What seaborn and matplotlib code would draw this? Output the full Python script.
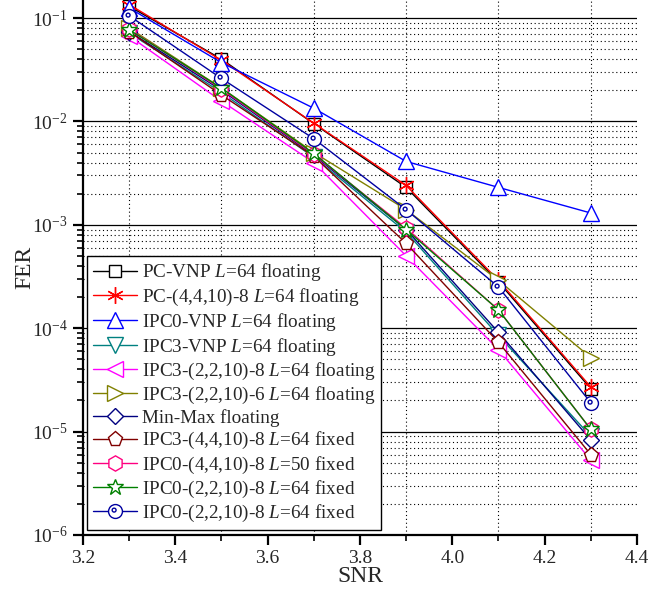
import numpy as np
import pandas as pd
import seaborn as sns
import matplotlib
matplotlib.use("Agg")
import matplotlib.pyplot as plt
from matplotlib.path import Path
from matplotlib.ticker import LogLocator, MultipleLocator, NullFormatter

snr = [3.3, 3.5, 3.7, 3.9, 4.1, 4.3]

labels = [
    "PC-VNP $L$=64 floating",
    "PC-(4,4,10)-8 $L$=64 floating",
    "IPC0-VNP $L$=64 floating",
    "IPC3-VNP $L$=64 floating",
    "IPC3-(2,2,10)-8 $L$=64 floating",
    "IPC3-(2,2,10)-6 $L$=64 floating",
    "Min-Max floating",
    "IPC3-(4,4,10)-8 $L$=64 fixed",
    "IPC0-(4,4,10)-8 $L$=50 fixed",
    "IPC0-(2,2,10)-8 $L$=64 fixed",
    "IPC0-(2,2,10)-8 $L$=64 fixed ",
]

fer_pc_vnp      = [0.130, 0.040, 0.0095, 0.0023, 2.8e-4, 2.6e-5]
fer_pc_4410     = [0.135, 0.039, 0.0096, 0.0024, 2.9e-4, 2.7e-5]
fer_ipc0_vnp    = [0.125, 0.037, 0.0134, 0.0041, 2.3e-3, 1.3e-3]
fer_ipc3_vnp    = [0.072, 0.019, 0.0045, 0.00085, 8.5e-5, 9.0e-6]
fer_ipc3_2210_8 = [0.067, 0.0157, 0.0040, 0.00050, 6.2e-5, 5.3e-6]
fer_ipc3_2210_6 = [0.080, 0.021, 0.0050, 0.00140, 2.9e-4, 5.2e-5]
fer_minmax      = [0.074, 0.020, 0.0047, 0.00090, 9.1e-5, 8.3e-6]
fer_ipc3_4410   = [0.074, 0.018, 0.0046, 0.00066, 7.3e-5, 6.0e-6]
fer_ipc0_4410   = [0.078, 0.0205, 0.0048, 0.00093, 1.5e-4, 1.05e-5]
fer_ipc0_2210   = [0.077, 0.021, 0.0049, 0.00090, 1.5e-4, 1.05e-5]
fer_ipc0_2210b  = [0.105, 0.026, 0.0068, 0.00140, 2.5e-4, 1.9e-5]

series = [fer_pc_vnp, fer_pc_4410, fer_ipc0_vnp, fer_ipc3_vnp, fer_ipc3_2210_8,
          fer_ipc3_2210_6, fer_minmax, fer_ipc3_4410, fer_ipc0_4410,
          fer_ipc0_2210, fer_ipc0_2210b]

# circle with a small dot marker
circ = Path.circle((0, 0), 1.0)
dot = Path.circle((-0.2, 0.2), 0.28)
circ_dot = Path.make_compound_path(circ, dot)

colors = ["#000000", "#ff0000", "#0000ff", "#008080", "#ff00ff", "#808000",
          "#000080", "#800000", "#ff0080", "#008000", "#0000a0"]
markers = ["s", (6, 2, 0), "^", "v", "<", ">", "D", "p", "h", "*", circ_dot]
msizes = [9, 12, 11, 11, 11, 11, 8, 11, 11, 12, 10]

sns.set_theme(style="white")
plt.rcParams["font.family"] = ["Liberation Serif", "DejaVu Serif"]
plt.rcParams["mathtext.fontset"] = "custom"
plt.rcParams["mathtext.rm"] = "Liberation Serif"
plt.rcParams["mathtext.it"] = "Liberation Serif:italic"

fig = plt.figure(figsize=(6.54, 5.99), dpi=100)
ax = fig.add_axes([83 / 654, 1 - 535 / 599, (637 - 83) / 654, 535 / 599 - 0.0])

for vals, lab, c, m, ms in zip(series, labels, colors, markers, msizes):
    df = pd.DataFrame({"SNR": snr, "FER": vals})
    sns.lineplot(data=df, x="SNR", y="FER", ax=ax, color=c, marker=m,
                 markersize=ms, markerfacecolor="white", markeredgecolor=c,
                 markeredgewidth=1.0, linewidth=1.0, label=lab,
                 estimator=None, sort=False)

ax.set_yscale("log")
ax.set_xlim(3.2, 4.4)
ax.set_ylim(1e-6, 10 ** (-1 + 18 / 103.4))

ax.xaxis.set_major_locator(MultipleLocator(0.2))
ax.xaxis.set_minor_locator(MultipleLocator(0.1))
ax.yaxis.set_major_locator(LogLocator(base=10, numticks=20))
ax.yaxis.set_minor_locator(LogLocator(base=10, subs=np.arange(2, 10), numticks=20))
ax.yaxis.set_minor_formatter(NullFormatter())
ax.set_xticks([3.2, 3.4, 3.6, 3.8, 4.0, 4.2, 4.4])
ax.set_xticklabels(["3.2", "3.4", "3.6", "3.8", "4.0", "4.2", "4.4"])

ax.grid(False)
ax.grid(True, which="major", axis="y", color="black", linestyle="-", linewidth=0.9)
ax.grid(True, which="minor", axis="y", color="black", linestyle=(0, (1, 2.5)), linewidth=0.8)
ax.grid(True, which="minor", axis="x", color="black", linestyle=(0, (1, 2.5)), linewidth=0.8)
ax.set_axisbelow(True)

for s in ["top", "right"]:
    ax.spines[s].set_visible(False)
for s in ["left", "bottom"]:
    ax.spines[s].set_color("black")
    ax.spines[s].set_linewidth(1.6)

ax.tick_params(axis="both", which="major", direction="out", length=7, width=1.6,
               labelsize=14, color="black", left=True, bottom=True, pad=4)
ax.tick_params(axis="both", which="minor", direction="out", length=4, width=1.2,
               color="black", left=True, bottom=True)

ax.set_xlabel("SNR", fontsize=17, labelpad=-1)
ax.set_ylabel("FER", fontsize=17, labelpad=-2.5)

leg = ax.legend(loc="lower left", bbox_to_anchor=(0.007, 0.01), fontsize=13.8,
                frameon=True, fancybox=False, framealpha=1, edgecolor="black",
                labelspacing=0.16, handlelength=2.3, handletextpad=0.25,
                borderpad=0.3, borderaxespad=0.0)
leg.get_frame().set_linewidth(1.0)

fig.savefig("out.png", dpi=100)
